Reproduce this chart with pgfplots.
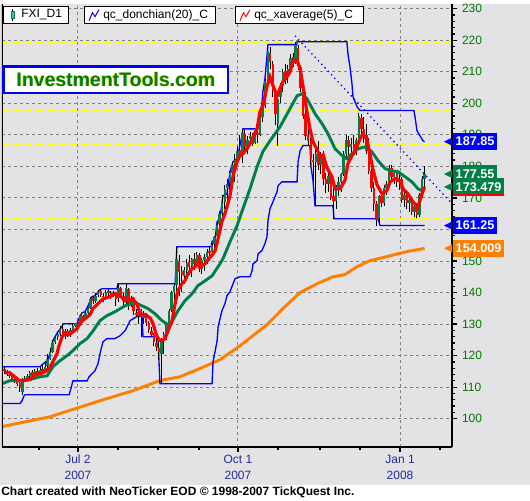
\documentclass[border=0pt]{standalone}
\usepackage{fontspec}
\setmainfont{Liberation Sans}
\usepackage{pgfplots}
\pgfplotsset{compat=1.18}
\usepackage{pgfplotstable}
\definecolor{bg}{RGB}{227,227,230}
\definecolor{cgreen}{RGB}{0,128,72}
\definecolor{tickgreen}{RGB}{0,120,0}
\definecolor{navy}{RGB}{40,40,160}
\definecolor{orng}{RGB}{255,128,0}
\definecolor{gridgray}{RGB}{128,128,128}
\definecolor{ylw}{RGB}{255,255,0}

\pgfplotstableread{
d o h l c
0 115.8 116.5 114.3 115.0
1 115.0 115.6 113.5 114.2
2 114.0 114.9 113.0 113.8
3 113.6 114.2 111.8 112.5
4 112.2 113.0 111.2 112.0
5 111.8 112.4 110.3 111.0
6 111.2 111.8 108.5 110.0
7 108.6 112.8 107.6 112.3
8 112.0 113.5 112.0 112.8
9 112.6 114.2 112.1 113.5
10 113.6 115.2 113.0 114.6
11 114.8 115.5 113.4 114.0
12 114.0 115.8 113.5 115.0
13 115.2 116.0 114.0 114.6
14 114.5 116.3 114.0 115.5
15 115.7 117.1 114.5 115.2
16 115.0 118.4 114.6 116.5
17 116.6 120.6 116.2 118.8
18 119.0 122.5 118.5 121.0
19 121.3 124.8 120.8 124.0
20 124.2 126.0 123.7 125.5
21 125.8 127.5 124.8 126.8
22 127.0 129.4 126.2 128.5
23 128.6 130.1 126.5 127.0
24 127.0 128.5 125.4 127.8
25 127.9 128.4 125.8 126.5
26 126.6 128.8 126.0 128.2
27 128.0 130.0 127.5 129.3
28 129.5 130.5 129.0 130.2
29 130.3 130.7 128.8 129.5
30 129.8 133.3 129.5 132.8
31 132.6 133.0 130.8 131.5
32 131.6 134.0 131.2 133.5
33 133.6 135.5 133.0 135.0
34 135.2 138.7 134.8 138.0
35 138.2 138.6 136.5 137.2
36 137.3 139.8 136.8 139.0
37 139.2 140.8 138.6 140.2
38 140.4 141.2 138.5 139.2
39 139.0 139.8 137.0 138.5
40 138.4 140.9 137.8 140.2
41 140.4 141.0 139.0 140.0
42 140.0 140.6 138.0 139.0
43 139.3 140.5 138.5 139.8
44 139.9 140.2 135.8 138.0
45 138.2 142.8 137.0 141.5
46 141.3 141.8 138.5 139.0
47 139.0 140.0 136.0 137.2
48 137.0 142.6 136.5 141.5
49 141.2 141.6 134.5 136.0
50 136.2 139.0 135.5 138.3
51 138.2 138.6 133.0 134.0
52 133.5 134.8 132.4 132.8
53 132.6 134.5 130.0 133.8
54 134.0 134.8 126.0 132.2
55 132.0 134.3 130.0 133.0
56 133.2 133.6 129.5 130.5
57 130.2 131.0 127.2 128.0
58 127.8 129.0 126.2 126.5
59 126.5 127.3 123.0 124.2
60 124.0 126.2 121.5 122.8
61 122.5 125.8 119.0 121.0
62 120.5 125.5 111.1 124.5
63 124.5 127.5 120.6 126.8
64 127.0 130.5 124.8 129.8
65 130.2 134.8 129.6 134.0
66 134.5 140.6 133.8 140.0
67 140.2 142.7 134.6 142.0
68 142.5 154.5 136.5 150.5
69 150.0 152.0 139.0 146.5
70 146.8 148.5 140.3 145.5
71 145.2 148.0 142.8 147.0
72 147.2 150.5 144.4 149.5
73 149.7 152.0 145.5 148.2
74 148.3 151.0 145.0 150.5
75 150.6 152.5 147.0 149.0
76 149.2 153.0 148.0 152.0
77 151.8 152.5 146.5 147.5
78 147.6 151.0 146.0 150.2
79 150.4 152.2 146.9 151.2
80 151.2 153.8 149.1 153.0
81 153.2 154.5 150.1 152.5
82 152.8 155.6 152.3 155.0
83 155.3 158.0 153.3 157.5
84 157.8 162.5 155.5 161.5
85 161.8 166.0 157.7 165.0
86 165.2 171.0 162.8 168.5
87 168.6 174.0 166.6 172.8
88 173.0 176.0 168.8 174.5
89 174.8 178.5 172.0 177.8
90 178.0 181.5 173.9 180.5
91 180.8 184.0 175.1 182.0
92 182.2 186.5 180.5 185.0
93 185.2 190.0 182.0 183.5
94 183.5 192.0 181.0 190.5
95 190.2 191.5 184.0 186.0
96 186.2 189.5 183.8 188.5
97 188.6 191.0 186.8 189.5
98 189.2 190.5 186.6 187.2
99 187.4 191.8 187.0 190.5
100 190.6 191.5 187.5 189.8
101 190.0 196.1 189.5 195.5
102 195.8 199.9 194.0 199.0
103 199.5 208.0 198.5 207.0
104 207.5 218.6 207.0 216.5
105 216.0 218.0 211.0 213.0
106 212.5 213.5 202.0 204.0
107 203.5 205.0 193.0 196.5
108 193.5 202.5 186.6 201.5
109 202.0 206.5 200.0 205.5
110 205.5 211.0 203.5 210.0
111 210.2 212.5 206.0 208.5
112 208.5 212.0 206.5 211.0
113 211.2 215.5 210.0 214.5
114 214.6 216.0 211.5 213.0
115 213.2 219.5 212.5 218.5
116 217.5 218.5 210.5 212.0
117 211.5 212.0 203.5 205.0
118 204.5 206.2 195.0 196.0
119 196.5 203.7 188.5 189.5
120 190.0 194.0 186.8 188.0
121 188.0 189.0 180.3 182.5
122 182.0 184.0 175.5 181.5
123 181.5 185.5 167.5 184.0
124 184.0 188.0 179.0 180.5
125 180.5 184.5 177.5 183.0
126 183.0 185.0 174.0 176.0
127 176.0 178.0 171.5 174.5
128 174.5 178.5 172.0 177.0
129 176.5 177.5 169.5 170.0
130 170.5 173.0 163.4 169.0
131 169.0 174.0 166.5 173.0
132 173.0 176.5 170.5 175.0
133 175.0 178.0 172.0 177.5
134 177.5 185.0 177.0 184.0
135 184.0 190.0 182.5 188.5
136 188.5 189.5 183.5 186.0
137 186.0 189.0 184.0 187.0
138 187.0 190.0 183.5 185.0
139 185.0 189.0 183.5 188.5
140 188.5 196.9 188.0 196.0
141 195.5 196.5 190.0 192.0
142 192.0 195.8 187.5 190.0
143 190.0 193.5 184.0 185.0
144 185.0 189.0 177.5 178.5
145 178.5 181.0 172.0 173.0
146 173.0 175.0 166.0 168.0
147 168.0 169.0 161.25 163.0
148 163.5 171.0 162.5 170.5
149 170.5 172.5 167.0 168.5
150 168.5 174.0 167.5 173.0
151 173.0 175.5 171.0 174.5
152 174.5 180.5 173.5 179.5
153 179.5 180.5 175.5 176.5
154 176.5 179.0 174.5 178.0
155 178.0 178.5 173.5 175.0
156 175.0 177.5 172.5 176.0
157 176.0 176.5 168.5 169.5
158 169.5 172.0 167.0 171.0
159 171.0 172.0 166.5 168.5
160 168.5 171.0 165.5 169.5
161 169.5 170.0 164.5 165.5
162 165.5 168.5 164.0 167.5
163 167.5 168.0 163.5 164.5
164 164.5 171.5 164.0 171.0
165 171.0 177.0 170.0 176.0
166 176.0 180.0 173.5 177.55
}\ohlc

\begin{document}
\begin{tikzpicture}
\begin{scope}[x=0.75pt,y=0.75pt]
\useasboundingbox (0,0) rectangle (530,497);
\fill[bg] (0,16) rectangle (530,497);
\fill[white] (0,0) rectangle (530,16);
\end{scope}
\begin{axis}[
  at={(1.5pt,40.5pt)}, anchor=south west,
  scale only axis, width=337.5pt, height=332.25pt,
  xmin=-1.03, xmax=176.84, ymin=91.12, ymax=231.58,
  axis x line*=bottom, axis y line*=right,
  x axis line style={-, line width=1.5pt, black},
  y axis line style={-, line width=1.5pt, black},
  tick align=outside,
  major tick length=4pt, minor tick length=2.3pt,
  tick style={black, line width=0.9pt},
  xtick={29,92.25,156.3},
  xticklabels={{Jul 2\\2007},{Oct 1\\2007},{Jan 1\\2008}},
  minor xtick={13.6,44.8,60.6,76.8,108.1,124.7,140.5,172.1},
  ytick={100,110,...,230},
  minor y tick num=4,
  xmajorgrids, ymajorgrids,
  major grid style={gridgray, line width=0.75pt, dash pattern=on 2.25pt off 2.25pt},
  xticklabel style={text=navy, align=center, font=\fontsize{9}{12}\selectfont, yshift=1.5pt},
  yticklabel style={text=tickgreen, font=\fontsize{9}{10}\selectfont},
  /pgf/number format/assume math mode=true,
  /pgf/number format/1000 sep={},
]
% yellow horizontal levels
\addplot[ylw, line width=1pt, dash pattern=on 5.5pt off 3pt, forget plot] coordinates {(-1.03,219.2) (176.84,219.2)};
\addplot[ylw, line width=0.8pt, dash pattern=on 5.5pt off 3pt, forget plot] coordinates {(-1.03,197.7) (176.84,197.7)};
\addplot[ylw, line width=0.8pt, dash pattern=on 5.5pt off 3pt, forget plot] coordinates {(-1.03,186.9) (176.84,186.9)};
\addplot[ylw, line width=0.8pt, dash pattern=on 5.5pt off 3pt, forget plot] coordinates {(-1.03,163.4) (176.84,163.4)};
% long average (orange)
\addplot[orng, line width=2.2pt, forget plot] coordinates {
(-1.03,97.5)(17.9,100.6)(37.7,105.7)(50.8,108.9)(61.4,112.1)(69.3,113.3)(77.2,115.9)(85.1,118.7)(93.0,123.1)(103.7,129.8)(110,134.9)(116.8,140.0)(123.5,142.8)(129.8,145.0)(134.5,145.7)(139.3,148.2)(144.4,150.1)(151.1,151.4)(159.1,153.0)(166,154.009)};
% donchian upper
\addplot[blue, line width=1pt, forget plot] coordinates {
(-1.03,116.5)(14.0,116.5)(14.8,117.1)(16.8,118.4)(17.9,120.6)(19.1,124.7)(19.9,126.0)(21.1,127.6)(22.7,129.2)(23.1,130.1)(28.6,130.1)(29.0,131.1)(30.6,133.6)(31.8,133.9)(33.0,135.8)(34.5,138.7)(35.7,139.0)(37.7,140.9)(38.5,141.2)(44.4,141.2)(44.8,142.8)(67.4,142.8)(68.1,154.5)(81.6,154.5)(82.0,156.1)(83.2,157.1)(84.0,162.5)(85.1,163.4)(86.3,170.7)(87.9,171.3)(89.1,178.3)(90.3,181.5)(91.9,182.4)(93.8,189.7)(94.2,191.9)(99.8,191.9)(100.9,196.1)(101.7,199.9)(102.1,203.7)(102.9,207.8)(104.1,218.6)(115.6,218.6)(115.6,219.5)(135.3,219.5)(135.7,215.7)(136.5,211.6)(137.3,206.2)(137.7,202.1)(139.3,198.9)(140.5,197.7)(161.8,197.7)(162.2,195.8)(163.0,191.3)(164.2,189.7)(165.4,188.1)(166,187.85)};
% donchian lower
\addplot[blue, line width=1pt, forget plot] coordinates {
(-1.03,104.8)(6.1,104.8)(6.9,105.7)(7.7,107.3)(8.1,107.6)(25.5,107.6)(26.2,109.5)(27.0,112.0)(32.6,112.0)(33.4,113.3)(35.7,115.2)(36.9,117.4)(37.7,120.6)(38.5,123.2)(38.9,124.4)(40.5,125.4)(43.6,125.4)(45.6,126.3)(47.6,127.9)(49.6,131.1)(52.3,132.4)(54.3,132.4)(54.7,126.0)(60.6,126.0)(61.4,111.1)(82.0,111.1)(82.4,118.1)(84.0,124.7)(84.4,129.2)(85.9,134.2)(87.1,136.5)(87.9,139.0)(89.1,140.3)(90.3,142.8)(91.1,144.4)(93.0,145.0)(97.0,145.0)(97.8,146.9)(98.2,149.1)(99.8,150.1)(100.2,152.3)(101.7,153.3)(102.9,155.5)(103.7,157.7)(104.1,162.8)(104.9,166.6)(106.1,168.8)(107.7,172.0)(108.1,173.9)(109.6,175.1)(115.6,175.1)(116.0,181.5)(116.8,185.0)(117.9,186.6)(120.7,186.6)(121.1,179.9)(121.9,175.5)(122.7,167.5)(129.8,167.5)(130.2,163.4)(147.6,163.4)(148.4,161.25)(166,161.25)};
% dotted trend line
\addplot[blue, line width=1pt, dash pattern=on 1pt off 2.6pt, forget plot] coordinates {(114.8,221.4) (176.84,168.2)};
% candle wicks
\addplot[forget plot, draw=none, mark=none, error bars/.cd, y dir=plus, y explicit, error mark=none,
  error bar style={draw=black, solid, line width=0.75pt}]
  table[x=d, y=l, y error expr=\thisrow{h}-\thisrow{l}] {\ohlc};
% up bodies
\addplot[forget plot, draw=none, mark=none, restrict expr to domain={\thisrow{c}-\thisrow{o}}{0:1000},
  error bars/.cd, y dir=plus, y explicit, error mark=none,
  error bar style={draw=cgreen, solid, line width=1.8pt}]
  table[x=d, y=o, y error expr=\thisrow{c}-\thisrow{o}] {\ohlc};
% down bodies
\addplot[forget plot, draw=none, mark=none, restrict expr to domain={\thisrow{o}-\thisrow{c}}{0.0001:1000},
  error bars/.cd, y dir=plus, y explicit, error mark=none,
  error bar style={draw=red, solid, line width=1.8pt}]
  table[x=d, y=c, y error expr=\thisrow{o}-\thisrow{c}] {\ohlc};
% green average
\addplot[cgreen, line width=2.2pt, forget plot] coordinates {
(-1.03,111.1)(2.1,112.05)(6.1,112.05)(10,112.4)(14,113.3)(16.8,113.6)(19.1,116.5)(21.9,118.4)(24.7,120.0)(27,121.6)(29.8,123.8)(32.6,125.4)(35,127.9)(37.7,131.1)(40.5,132.7)(43.6,133.9)(47.6,135.8)(51.5,136.8)(54.3,135.8)(56.7,134.9)(59.4,133.3)(62.2,131.1)(64.6,129.8)(66.2,130.8)(68.5,134.2)(71.3,137.4)(74.1,139.6)(76.4,142.2)(79.2,143.7)(82,145.3)(85.1,149.1)(86.3,150.7)(89.1,156.1)(91.9,161.2)(94.2,166.6)(97,172.9)(99.8,179.9)(102.1,184.7)(104.9,188.1)(108.9,192.6)(112.8,198.3)(115.6,202.4)(117.5,203.0)(119.5,201.5)(122.7,196.7)(125.5,193.5)(127.8,190.4)(130.6,185.6)(133.4,183.4)(135.3,182.4)(137.3,184.0)(139.7,185.6)(142.5,186.2)(145.2,184.6)(147.6,181.8)(150.4,179.3)(153.1,178.6)(155.5,178.3)(158.3,176.7)(161.0,175.1)(163.4,172.9)(165,172.3)(166,172.9)};
% red xaverage(5)
\addplot[red, line width=2.4pt, forget plot] coordinates {
(0,114.6)(2,114.6)(4,113.3)(6,112.0)(10,112.4)(11.2,113.6)(14,114.3)(16,114.9)(17.9,116.2)(19.1,118.1)(20.7,120.6)(21.5,123.1)(22.7,126.0)(23.9,127.0)(25.1,126.6)(26.6,127.3)(28.6,128.5)(29.8,130.4)(31.8,131.7)(33.8,133.0)(34.9,134.9)(36.9,136.5)(38.9,138.0)(41.7,138.7)(43.6,139.6)(45.6,139.0)(47.6,137.4)(50.4,138.0)(52.3,136.5)(53.5,133.3)(55.5,133.0)(57.5,132.0)(58.7,130.1)(59.8,127.0)(61,125.0)(62.2,124.7)(63.4,125.4)(64.6,127.9)(66.2,131.1)(67.4,136.5)(68.5,140.6)(70.1,142.8)(71.3,143.8)(72.5,146.0)(74.1,147.6)(75.3,148.2)(76.4,149.1)(78,148.5)(79.2,149.1)(80.4,150.4)(82.4,152.3)(83.2,153.3)(84.4,157.1)(85.9,162.5)(87.1,165.0)(89.1,170.7)(90.3,177.0)(91.9,181.5)(93,183.4)(94.2,184.0)(95.8,185.6)(97,187.2)(98.2,189.4)(99.8,191.9)(100.9,197.3)(102.1,199.2)(103.7,205.3)(104.9,208.4)(106.1,205.6)(107.7,202.4)(108.8,204.6)(110,206.9)(111.6,208.4)(112.8,210.0)(114,213.2)(115.6,213.5)(116.8,211.0)(117.9,205.6)(119.5,197.3)(120.7,191.9)(121.9,187.8)(123.5,185.3)(124.7,183.1)(125.9,183.7)(127.4,179.6)(129.4,176.7)(130.6,172.9)(132.6,172.9)(134.5,175.5)(135.7,180.9)(137.3,183.4)(138.5,184.7)(140.5,188.8)(141.7,190.4)(143.2,188.5)(144.4,184.0)(145.6,179.0)(147.2,174.2)(149.2,171.3)(151.1,172.3)(152.4,175.1)(154.3,176.1)(156.3,175.5)(157.5,172.9)(159.4,171.3)(161.4,168.8)(163.4,167.2)(165,171.3)(166,173.479)};
% left frame line
\draw[black, line width=0.9pt] (rel axis cs:0,0) -- (rel axis cs:0,1);
\coordinate (tA) at (axis cs:176.84,187.85);
\coordinate (tB) at (axis cs:176.84,177.55);
\coordinate (tC) at (axis cs:176.84,173.479);
\coordinate (tD) at (axis cs:176.84,161.25);
\coordinate (tE) at (axis cs:176.84,154.009);
\end{axis}
% price tags
\tikzset{tag/.style={anchor=west, text=white, font=\bfseries\fontsize{9.5}{10}\selectfont, minimum height=13pt, inner xsep=2pt, inner ysep=0pt, xshift=0.6pt}}
\fill[blue, shift={(tA)}] (-6pt,0) -- (0,3pt) -- (0,-3pt) -- cycle;
\node[tag, fill=blue] at (tA) {187.85};
\fill[cgreen, shift={(tB)}] (-6pt,0) -- (0,3pt) -- (0,-3pt) -- cycle;
\node[tag, fill=cgreen] at (tB) {177.55};
\fill[cgreen, shift={(tC)}] (-6pt,0) -- (0,3pt) -- (0,-3pt) -- cycle;
\node[tag, fill=cgreen] (nC) at (tC) {173.479};
\draw[red, line width=1.3pt] ([yshift=0.6pt]nC.south west) -- ([yshift=0.6pt]nC.south east);
\fill[blue, shift={(tD)}] (-6pt,0) -- (0,3pt) -- (0,-3pt) -- cycle;
\node[tag, fill=blue] at (tD) {161.25};
\fill[orng, shift={(tE)}] (-6pt,0) -- (0,3pt) -- (0,-3pt) -- cycle;
\node[tag, fill=orng] at (tE) {154.009};
\begin{scope}[x=0.75pt,y=0.75pt]
% legend boxes
\draw[black, fill=white, line width=0.75pt] (3.5,477.5) rectangle (68,494);
\draw[black, line width=0.6pt] (12.5,480) -- (12.5,492);
\draw[cgreen, fill=cgreen!60!white, line width=0.6pt] (11,482.5) rectangle (14,489.5);
\node[anchor=west, inner sep=0pt, font=\fontsize{9}{10}\selectfont] at (21,485.8) {FXI\_D1};
\draw[black, fill=white, line width=0.75pt] (84,477.5) rectangle (215,494);
\draw[blue, line width=0.75pt] (89,480) -- (92.5,488) -- (95,484) -- (99,491);
\node[anchor=west, inner sep=0pt, font=\fontsize{9}{10}\selectfont] at (103,485.8) {qc\_donchian(20)\_C};
\draw[black, fill=white, line width=0.75pt] (235,477.5) rectangle (363,494);
\draw[red, line width=0.75pt] (240,480) -- (243.5,488) -- (246,484) -- (250,491);
\node[anchor=west, inner sep=0pt, font=\fontsize{9}{10}\selectfont] at (254,485.8) {qc\_xaverage(5)\_C};
% InvestmentTools box
\draw[blue, fill=white, line width=2pt] (3.5,434) rectangle (228,407.7);
\node[font=\bfseries\fontsize{14.6}{16}\selectfont, text={rgb,255:red,210;green,200;blue,0}] at (115.2,421.3) {InvestmentTools.com};
\node[font=\bfseries\fontsize{14.6}{16}\selectfont, text={rgb,255:red,0;green,128;blue,0}] at (116,421) {InvestmentTools.com};
% footer
\node[anchor=west, inner sep=0pt, font=\bfseries\fontsize{9}{10}\selectfont] at (1,8) {Chart created with NeoTicker EOD © 1998-2007 TickQuest Inc.};
\end{scope}
\end{tikzpicture}
\end{document}
